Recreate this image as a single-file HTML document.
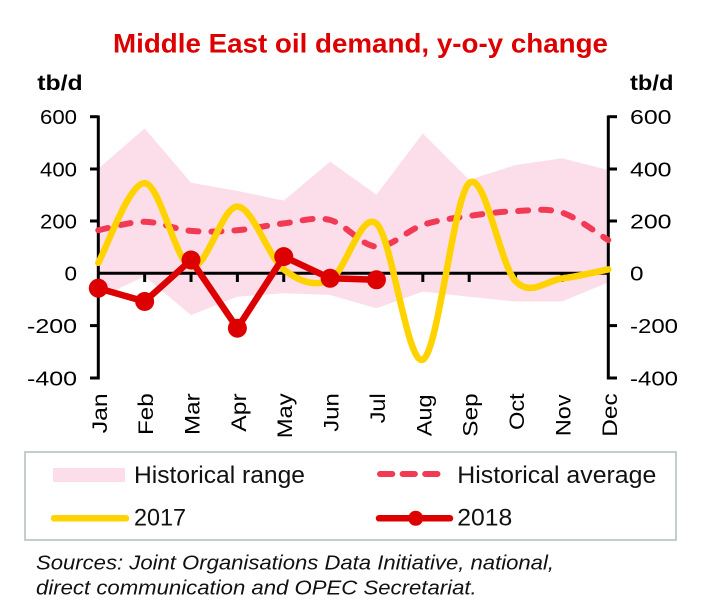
<!DOCTYPE html>
<html>
<head>
<meta charset="utf-8">
<style>
html,body{margin:0;padding:0;background:#ffffff;}
svg{display:block;}
text{font-family:"Liberation Sans",Arial,sans-serif;}
</style>
</head>
<body>
<svg width="707" height="605" viewBox="0 0 707 605" xmlns="http://www.w3.org/2000/svg">
  <rect x="0" y="0" width="707" height="605" fill="#ffffff"/>

  <!-- Title -->
  <text x="113" y="52.7" font-size="27" font-weight="bold" fill="#dc0000" textLength="495" lengthAdjust="spacingAndGlyphs">Middle East oil demand, y-o-y change</text>

  <!-- unit labels -->
  <text x="37.3" y="90" font-size="21" font-weight="bold" fill="#000" textLength="45.4" lengthAdjust="spacingAndGlyphs">tb/d</text>
  <text x="630" y="90" font-size="21" font-weight="bold" fill="#000" textLength="43.5" lengthAdjust="spacingAndGlyphs">tb/d</text>

  <!-- Historical range -->
  <polygon fill="#fcdeeb" points="98.3,168.7 144.66,128.4 191.02,182.8 237.38,190.9 283.74,200.6 330.1,161.6 376.46,194.8 422.82,133.4 469.18,179.9 515.54,165.0 561.9,158.2 608.26,170.0 608.26,282.5 561.9,301.5 515.54,301.5 469.18,296.8 422.82,291.6 376.46,308.3 330.1,295.0 283.74,293.2 237.38,296.8 191.02,315.1 144.66,276.4 98.3,298.1"/>

  <!-- Axes -->
  <g stroke="#000" stroke-width="3" fill="none">
    <line x1="98.3" y1="115.5" x2="98.3" y2="379.5"/>
    <line x1="608.3" y1="115.5" x2="608.3" y2="379.5"/>
    <line x1="98.3" y1="273.3" x2="608.3" y2="273.3"/>
    <!-- left ticks -->
    <line x1="90" y1="116.7" x2="98.3" y2="116.7"/>
    <line x1="90" y1="169" x2="98.3" y2="169"/>
    <line x1="90" y1="221" x2="98.3" y2="221"/>
    <line x1="90" y1="325.6" x2="98.3" y2="325.6"/>
    <line x1="90" y1="378" x2="98.3" y2="378"/>
    <!-- right ticks -->
    <line x1="608.3" y1="116.7" x2="617" y2="116.7"/>
    <line x1="608.3" y1="169" x2="617" y2="169"/>
    <line x1="608.3" y1="221" x2="617" y2="221"/>
    <line x1="608.3" y1="325.6" x2="617" y2="325.6"/>
    <line x1="608.3" y1="378" x2="617" y2="378"/>
    <!-- month ticks -->
    <line x1="144.66" y1="273.3" x2="144.66" y2="282"/>
    <line x1="191.02" y1="273.3" x2="191.02" y2="282"/>
    <line x1="237.38" y1="273.3" x2="237.38" y2="282"/>
    <line x1="283.74" y1="273.3" x2="283.74" y2="282"/>
    <line x1="330.1" y1="273.3" x2="330.1" y2="282"/>
    <line x1="376.46" y1="273.3" x2="376.46" y2="282"/>
    <line x1="422.82" y1="273.3" x2="422.82" y2="282"/>
    <line x1="469.18" y1="273.3" x2="469.18" y2="282"/>
    <line x1="515.54" y1="273.3" x2="515.54" y2="282"/>
    <line x1="561.9" y1="273.3" x2="561.9" y2="282"/>
  </g>

  <!-- Left axis labels -->
  <g font-size="20" fill="#000" text-anchor="end">
    <text x="77" y="124" textLength="37" lengthAdjust="spacingAndGlyphs">600</text>
    <text x="77" y="176.3" textLength="37" lengthAdjust="spacingAndGlyphs">400</text>
    <text x="77" y="228.3" textLength="37" lengthAdjust="spacingAndGlyphs">200</text>
    <text x="77" y="280.6" textLength="12.5" lengthAdjust="spacingAndGlyphs">0</text>
    <text x="77" y="332.9" textLength="50" lengthAdjust="spacingAndGlyphs">-200</text>
    <text x="77" y="385.3" textLength="50" lengthAdjust="spacingAndGlyphs">-400</text>
  </g>
  <!-- Right axis labels -->
  <g font-size="20" fill="#000">
    <text x="630" y="124" textLength="41.5" lengthAdjust="spacingAndGlyphs">600</text>
    <text x="630" y="176.3" textLength="41.5" lengthAdjust="spacingAndGlyphs">400</text>
    <text x="630" y="228.3" textLength="41.5" lengthAdjust="spacingAndGlyphs">200</text>
    <text x="630" y="280.6" textLength="13.5" lengthAdjust="spacingAndGlyphs">0</text>
    <text x="630" y="332.9" textLength="48" lengthAdjust="spacingAndGlyphs">-200</text>
    <text x="630" y="385.3" textLength="48" lengthAdjust="spacingAndGlyphs">-400</text>
  </g>

  <!-- Month labels (rotated) -->
  <g font-size="21" fill="#000" text-anchor="end">
    <text transform="translate(106.8,393.3) rotate(-90)" textLength="40" lengthAdjust="spacingAndGlyphs">Jan</text>
    <text transform="translate(153.2,393.3) rotate(-90)" textLength="41.7" lengthAdjust="spacingAndGlyphs">Feb</text>
    <text transform="translate(199.5,393.3) rotate(-90)" textLength="41.7" lengthAdjust="spacingAndGlyphs">Mar</text>
    <text transform="translate(245.9,393.3) rotate(-90)" textLength="38.4" lengthAdjust="spacingAndGlyphs">Apr</text>
    <text transform="translate(292.2,393.3) rotate(-90)" textLength="45" lengthAdjust="spacingAndGlyphs">May</text>
    <text transform="translate(338.6,393.3) rotate(-90)" textLength="38.4" lengthAdjust="spacingAndGlyphs">Jun</text>
    <text transform="translate(385,393.3) rotate(-90)" textLength="30" lengthAdjust="spacingAndGlyphs">Jul</text>
    <text transform="translate(431.3,394.5) rotate(-90)" textLength="41.7" lengthAdjust="spacingAndGlyphs">Aug</text>
    <text transform="translate(477.7,393.3) rotate(-90)" textLength="43.4" lengthAdjust="spacingAndGlyphs">Sep</text>
    <text transform="translate(524,393.3) rotate(-90)" textLength="36.7" lengthAdjust="spacingAndGlyphs">Oct</text>
    <text transform="translate(570.4,394.5) rotate(-90)" textLength="41.7" lengthAdjust="spacingAndGlyphs">Nov</text>
    <text transform="translate(616.8,393.3) rotate(-90)" textLength="43.4" lengthAdjust="spacingAndGlyphs">Dec</text>
  </g>

  <!-- Historical average (dashed, smoothed) -->
  <path fill="none" stroke="#f23a55" stroke-width="6" stroke-linecap="round" stroke-dasharray="10 13"
    d="M98.3,230.2 C106.03,228.8 129.21,221.68 144.66,221.8 C160.11,221.92 175.57,229.5 191.02,230.9 C206.47,232.3 221.93,231.45 237.38,230.2 C252.83,228.95 268.29,225.1 283.74,223.4 C299.19,221.7 314.65,216.13 330.1,220.0 C345.55,223.87 361.01,245.78 376.46,246.6 C391.91,247.42 407.37,230.0 422.82,224.9 C438.27,219.8 453.73,218.3 469.18,216.0 C484.63,213.7 500.09,211.67 515.54,211.1 C530.99,210.53 546.45,207.77 561.9,212.6 C577.35,217.43 600.53,235.52 608.26,240.1"/>

  <!-- 2017 (smoothed) -->
  <path fill="none" stroke="#ffd200" stroke-width="6.5" stroke-linejoin="round" stroke-linecap="round"
    d="M98.3,262.8 C106.03,249.52 129.21,182.43 144.66,183.1 C160.11,183.77 175.57,262.88 191.02,266.8 C206.47,270.72 221.93,206.17 237.38,206.6 C252.83,207.03 268.29,257.2 283.74,269.4 C299.19,281.6 314.65,287.43 330.1,279.8 C345.55,272.17 361.01,210.3 376.46,223.6 C391.91,236.9 407.37,366.35 422.82,359.6 C438.27,352.85 453.73,196.18 469.18,183.1 C484.63,170.02 500.09,265.2 515.54,281.1 C530.99,297.0 546.45,280.45 561.9,278.5 C577.35,276.55 600.53,270.92 608.26,269.4"/>

  <!-- 2018 -->
  <polyline fill="none" stroke="#dc0000" stroke-width="6.5" stroke-linejoin="round"
    points="98.3,288.2 144.66,301.5 191.02,260.0 237.38,328.2 283.74,256.6 330.1,278.3 376.46,279.8"/>
  <g fill="#dc0000">
    <circle cx="98.3" cy="288.2" r="9.5"/>
    <circle cx="144.66" cy="301.5" r="9.5"/>
    <circle cx="191.02" cy="260.0" r="9.5"/>
    <circle cx="237.38" cy="328.2" r="9.5"/>
    <circle cx="283.74" cy="256.6" r="9.5"/>
    <circle cx="330.1" cy="278.3" r="9.5"/>
    <circle cx="376.46" cy="279.8" r="9.5"/>
  </g>

  <!-- Legend -->
  <rect x="25" y="452" width="651" height="88" fill="#ffffff" stroke="#c5cccc" stroke-width="2"/>
  <rect x="53" y="468" width="72" height="14" fill="#fcdeeb"/>
  <line x1="54" y1="518.3" x2="126" y2="518.3" stroke="#ffd200" stroke-width="6.5" stroke-linecap="round"/>
  <line x1="380" y1="474" x2="440" y2="474" stroke="#f23a55" stroke-width="6" stroke-linecap="round" stroke-dasharray="12.3 10.3"/>
  <line x1="379" y1="518.3" x2="450" y2="518.3" stroke="#dc0000" stroke-width="6.5" stroke-linecap="round"/>
  <circle cx="415.7" cy="518.3" r="7.5" fill="#dc0000"/>
  <g font-size="24" fill="#111">
    <text x="134" y="483" textLength="171" lengthAdjust="spacingAndGlyphs">Historical range</text>
    <text x="134" y="525.5" textLength="52" lengthAdjust="spacingAndGlyphs">2017</text>
    <text x="457.3" y="483" textLength="199" lengthAdjust="spacingAndGlyphs">Historical average</text>
    <text x="457.3" y="525.5" textLength="55" lengthAdjust="spacingAndGlyphs">2018</text>
  </g>

  <!-- Sources -->
  <g font-size="20" font-style="italic" fill="#111">
    <text x="36" y="569.5" textLength="518" lengthAdjust="spacingAndGlyphs">Sources: Joint Organisations Data Initiative, national,</text>
    <text x="36" y="594.5" textLength="440.7" lengthAdjust="spacingAndGlyphs">direct communication and OPEC Secretariat.</text>
  </g>
</svg>
</body>
</html>
